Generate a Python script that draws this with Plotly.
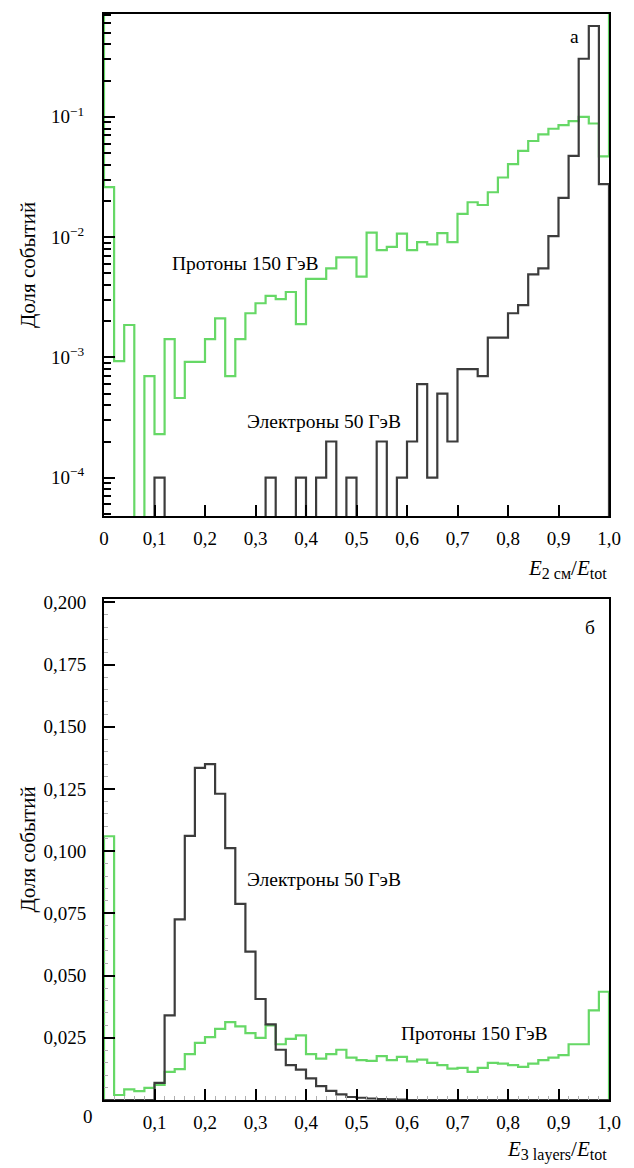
import numpy as np
import plotly.graph_objects as go
from plotly.subplots import make_subplots

# Histogram binning shared by both panels: 50 bins of width 0.02 on [0, 1]
BIN_WIDTH = 0.02
N_BINS = 50

# Panel "а": fraction of events vs E_2cm / E_tot (log scale)
protons_a = [
    0.026, 9.3e-4, 1.86e-3, 0.0, 7.0e-4, 2.3e-4, 1.42e-3, 4.6e-4, 9.2e-4, 9.2e-4,
    1.42e-3, 2.11e-3, 7.0e-4, 1.42e-3, 2.33e-3, 2.82e-3, 3.25e-3, 3.05e-3, 3.5e-3, 1.89e-3,
    4.5e-3, 4.5e-3, 5.5e-3, 6.8e-3, 6.8e-3, 4.7e-3, 0.0109, 7.8e-3, 8.3e-3, 0.0107,
    7.8e-3, 9.1e-3, 8.7e-3, 0.0108, 9.1e-3, 0.0156, 0.0195, 0.0185, 0.0236, 0.0313,
    0.0404, 0.0521, 0.063, 0.0715, 0.0796, 0.0853, 0.092, 0.100, 0.088, 0.047,
]
electrons_a = [
    0, 0, 0, 0, 0, 1e-4, 0, 0, 0, 0,
    0, 0, 0, 0, 0, 0, 1e-4, 0, 0, 1e-4,
    0, 1e-4, 2e-4, 0, 1e-4, 0, 0, 2e-4, 0, 1e-4,
    2e-4, 6e-4, 1e-4, 5e-4, 2e-4, 8e-4, 8e-4, 7e-4, 1.46e-3, 1.46e-3,
    2.33e-3, 2.72e-3, 4.9e-3, 5.5e-3, 0.0102, 0.0212, 0.0473, 0.304, 0.569, 0.0276,
]

# Panel "б": fraction of events vs E_3layers / E_tot (linear scale)
protons_b = [
    0.106, 0.002, 0.0043, 0.0036, 0.0049, 0.0061, 0.0113, 0.0124, 0.0184, 0.023,
    0.0253, 0.0286, 0.0313, 0.0296, 0.0269, 0.025, 0.030, 0.0224, 0.0246, 0.026,
    0.0184, 0.0166, 0.0184, 0.0202, 0.017, 0.016, 0.0157, 0.0176, 0.016, 0.0173,
    0.0155, 0.0162, 0.0149, 0.014, 0.0126, 0.0129, 0.0113, 0.0129, 0.0149, 0.0146,
    0.014, 0.0133, 0.0146, 0.016, 0.017, 0.018, 0.0224, 0.0224, 0.036, 0.0435,
]
electrons_b = [
    0, 0, 0, 0, 0, 0.0069, 0.034, 0.0726, 0.1062, 0.1335,
    0.135, 0.1231, 0.1012, 0.0788, 0.0596, 0.0406, 0.0304, 0.0202, 0.014, 0.0122,
    0.0087, 0.0056, 0.0037, 0.0023, 0.0012, 0.0009, 0.0006, 0.0004, 0.0003, 0.0002,
    0, 0, 0, 0, 0, 0, 0, 0, 0, 0,
    0, 0, 0, 0, 0, 0, 0, 0, 0, 0,
]

# Axis ticks and labels
x_tick_vals = [0.0, 0.1, 0.2, 0.3, 0.4, 0.5, 0.6, 0.7, 0.8, 0.9, 1.0]
x_tick_text = ["0", "0,1", "0,2", "0,3", "0,4", "0,5", "0,6", "0,7", "0,8", "0,9", "1,0"]
log_tick_vals = [1e-4, 1e-3, 1e-2, 1e-1]
log_tick_text = ["10<sup>\u22124</sup>", "10<sup>\u22123</sup>", "10<sup>\u22122</sup>", "10<sup>\u22121</sup>"]
lin_tick_vals = [0.025, 0.05, 0.075, 0.1, 0.125, 0.15, 0.175, 0.2]
lin_tick_text = ["0,025", "0,050", "0,075", "0,100", "0,125", "0,150", "0,175", "0,200"]

LOG_RANGE = [np.log10(4.8e-5), np.log10(0.716)]
LIN_RANGE = [0.0, 0.2014]
LOG_FLOOR = 1e-7  # empty bins fall below the visible log range

GREEN = "#66d866"
DARK = "#3c3c3c"
FONT = "Times New Roman, Liberation Serif, DejaVu Serif, serif"


def step_outline(values, low, high):
    """Outline of a histogram drawn with 'hv' steps, closed at low/high edges."""
    edges = np.arange(N_BINS + 1) * BIN_WIDTH
    xs = [edges[0]] + list(edges[:-1]) + [edges[-1], edges[-1]]
    ys = [low] + list(values) + [values[-1], high]
    return xs, ys


fig = make_subplots(rows=2, cols=1)

# --- panel а (log) ---
pa = [v if v > 0 else LOG_FLOOR for v in protons_a]
ea = [v if v > 0 else LOG_FLOOR for v in electrons_a]
top_edge = 10 ** LOG_RANGE[1]
x, y = step_outline(pa, top_edge, top_edge)
fig.add_trace(go.Scatter(x=x, y=y, mode="lines", line=dict(color=GREEN, width=2.2, shape="hv"),
                         name="Протоны 150 ГэВ", showlegend=False), row=1, col=1)
x, y = step_outline(ea, LOG_FLOOR, LOG_FLOOR)
fig.add_trace(go.Scatter(x=x, y=y, mode="lines", line=dict(color=DARK, width=2.2, shape="hv"),
                         name="Электроны 50 ГэВ", showlegend=False), row=1, col=1)

# --- panel б (linear) ---
x, y = step_outline(protons_b, 0.0, 0.0)
fig.add_trace(go.Scatter(x=x, y=y, mode="lines", line=dict(color=GREEN, width=2.2, shape="hv"),
                         name="Протоны 150 ГэВ", showlegend=False), row=2, col=1)
x, y = step_outline(electrons_b, 0.0, 0.0)
fig.add_trace(go.Scatter(x=x, y=y, mode="lines", line=dict(color=DARK, width=2.2, shape="hv"),
                         name="Электроны 50 ГэВ", showlegend=False), row=2, col=1)

axis_common = dict(showline=True, linecolor="black", linewidth=2, mirror=True,
                   showgrid=False, zeroline=False, ticks="inside", tickcolor="black",
                   tickwidth=2, tickfont=dict(family=FONT, size=19, color="black"))

fig.update_xaxes(range=[0, 1], tickmode="array", tickvals=x_tick_vals, ticktext=x_tick_text,
                 ticklen=11, ticklabelstandoff=4, **axis_common)
fig.update_xaxes(domain=[0, 1], row=1, col=1)
fig.update_xaxes(row=2, col=1, ticktext=[""] + x_tick_text[1:],
                 minor=dict(ticks="inside", ticklen=4, tickcolor="#b0b0b0", tickwidth=1, dtick=0.02))

minor_log = [k * 10.0 ** e for e in range(-5, 0) for k in range(2, 10)]
fig.update_yaxes(type="log", range=LOG_RANGE, tickmode="array", tickvals=log_tick_vals,
                 ticktext=log_tick_text, ticklen=11, ticklabelstandoff=14,
                 minor=dict(ticks="inside", ticklen=7, tickcolor="black", tickwidth=2,
                            tickmode="array", tickvals=minor_log),
                 domain=[0.5377, 1.0], row=1, col=1, **axis_common)
fig.update_yaxes(range=LIN_RANGE, tickmode="array", tickvals=lin_tick_vals, ticktext=lin_tick_text,
                 ticklen=11, ticklabelstandoff=12,
                 minor=dict(ticks="inside", ticklen=4, tickcolor="#b0b0b0", tickwidth=1, dtick=0.005),
                 domain=[0.0, 0.4614], row=2, col=1, **axis_common)

text_font = dict(family=FONT, size=19.5, color="black")
notes = [
    # (text, x, y, xref, yref)
    ("Протоны 150 ГэВ", 0.281, np.log10(6.0e-3), "x", "y"),
    ("Электроны 50 ГэВ", 0.436, np.log10(2.92e-4), "x", "y"),
    ("а", 0.931, np.log10(0.465), "x", "y"),
    ("Электроны 50 ГэВ", 0.436, 0.0885, "x2", "y2"),
    ("Протоны 150 ГэВ", 0.733, 0.0266, "x2", "y2"),
    ("б", 0.962, 0.190, "x2", "y2"),
]
for txt, ax, ay, xr, yr in notes:
    fig.add_annotation(text=txt, x=ax, y=ay, xref=xr, yref=yr, showarrow=False, font=text_font)

# "0" under the lower panel sits left of the axis corner
fig.add_annotation(text="0", x=0, y=0, xref="x2", yref="y2", showarrow=False,
                   xshift=-16, yshift=-17, font=dict(family=FONT, size=19, color="black"))

# Axis titles
title_font = dict(family=FONT, size=21, color="black")
sub = "<sub><span style='font-size:16px'>{}</span></sub>"
fig.add_annotation(text="<i>E</i>" + sub.format("2 см") + "/<i>E</i>" + sub.format("tot"),
                   x=1.0, y=0.5377, xref="paper", yref="paper", xanchor="right", yanchor="top",
                   yshift=-38, showarrow=False, font=title_font)
fig.add_annotation(text="<i>E</i>" + sub.format("3 layers") + "/<i>E</i>" + sub.format("tot"),
                   x=1.0, y=0.0, xref="paper", yref="paper", xanchor="right", yanchor="top",
                   yshift=-35, showarrow=False, font=title_font)
for yc in (0.7689, 0.2307):
    fig.add_annotation(text="Доля событий", x=0, y=yc, xref="paper", yref="paper",
                       xanchor="center", yanchor="middle",
                       textangle=-90, xshift=-76, showarrow=False,
                       font=dict(family=FONT, size=21, color="black"))

fig.update_layout(width=634, height=1168, margin=dict(l=104, r=25, t=7, b=68),
                  plot_bgcolor="white", paper_bgcolor="white", showlegend=False)

fig.write_html("out.html")
